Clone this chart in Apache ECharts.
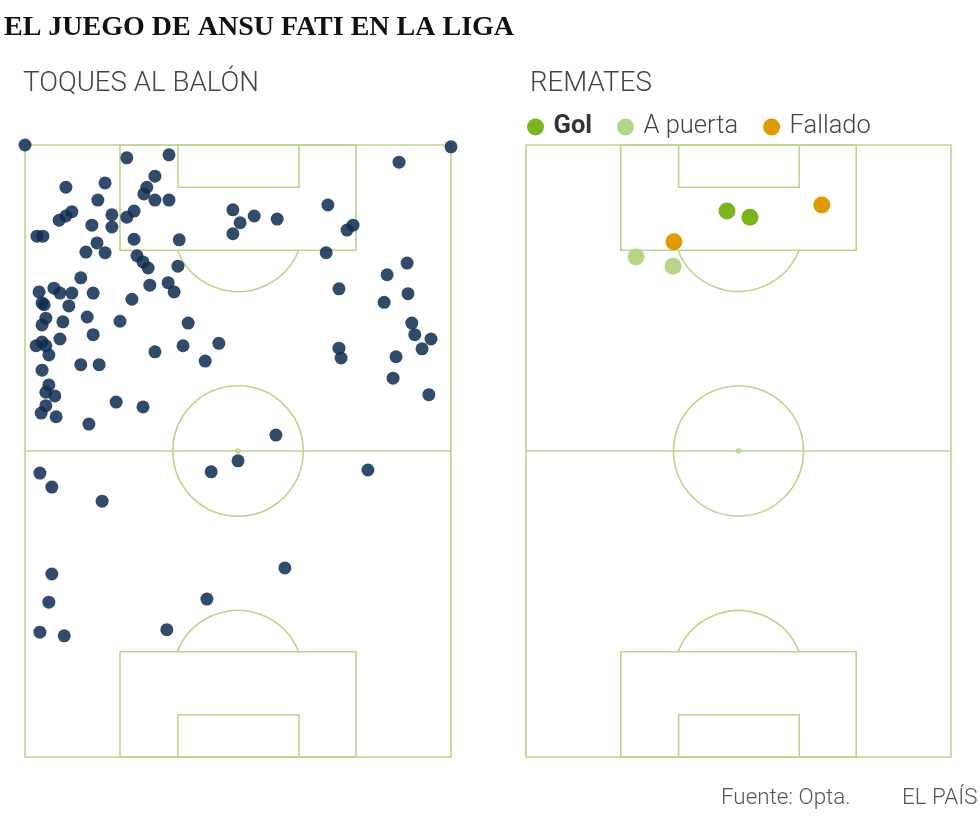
<!DOCTYPE html>
<html>
<head>
<meta charset="utf-8">
<script src="https://cdn.jsdelivr.net/npm/echarts@6/dist/echarts.min.js"></script>
<style>
html,body{margin:0;padding:0;background:#fff;}
#chart{width:980px;height:824px;}
</style>
</head>
<body>
<div id="chart"></div>
<script>
// Data: x = % of pitch width from left touchline, y = % of pitch length from the attacked goal line (top)
const touchesX = [0,100,23.9,33.8,87.8,30.5,28.6,27.9,30.5,33.8,9.6,18.8,17.1,48.8,50.5,48.8,53.8,59.2,71.1,77.0,75.6,11.0,9.6,8.0,20.4,25.6,23.9,15.7,20.4,2.8,4.2,25.6,36.2,16.9,14.3,18.8,26.3,27.7,28.9,35.9,70.7,89.7,85.0,73.7,89.9,84.3,13.1,29.3,33.6,35.0,3.3,6.8,8.2,11.0,16.0,25.1,4.0,4.5,10.3,4.9,4.0,8.9,14.6,22.3,38.3,16.0,8.2,4.0,2.6,4.9,5.6,30.5,37.1,45.5,42.3,4.0,13.1,17.4,5.6,4.9,7.0,4.9,3.8,7.3,21.4,27.7,15.0,90.8,91.5,95.3,93.2,73.7,74.2,87.1,86.4,94.8,58.9,50.0,43.7,3.5,6.3,18.1,80.5,61.0,6.3,5.6,42.7,3.5,9.2,33.3];
const touchesY = [0,0.3,2.1,1.6,2.8,5.1,6.9,8.0,9.0,9.0,6.9,6.2,9.0,10.6,12.7,14.5,11.6,12.1,9.8,13.1,13.9,10.9,11.6,12.3,11.4,10.8,11.8,13.1,13.4,14.9,14.9,15.4,15.5,16.0,17.5,17.6,18.1,19.1,20.1,19.8,17.6,19.3,21.2,23.5,24.3,25.7,21.7,22.9,22.5,24.0,24.0,23.4,24.2,24.2,24.2,25.2,25.8,26.1,26.3,28.3,29.4,28.9,28.1,28.8,29.1,31.0,31.7,32.2,32.8,32.8,34.3,33.8,32.8,32.4,35.3,36.8,35.9,35.9,39.2,40.4,41.0,42.6,43.8,44.4,42.0,42.8,45.6,29.1,31.0,31.7,33.3,33.2,34.8,34.6,38.1,40.8,47.4,51.6,53.4,53.6,55.9,58.2,53.1,69.1,70.1,74.7,74.2,79.6,80.2,79.2];

const shotCategories = ['Gol', 'A puerta', 'Fallado'];
const golX = [47.3, 52.7];
const golY = [10.8, 11.8];
const aPuertaX = [25.9, 34.6];
const aPuertaY = [18.3, 19.8];
const falladoX = [69.6, 34.8];
const falladoY = [9.8, 15.8];

// Pitch markings (same units)
const penaltyBoxX = [22.3, 77.7];
const penaltyBoxDepth = 17.2;
const goalAreaX = [35.9, 64.3];
const goalAreaDepth = 6.9;
const penaltySpotDepth = 13.3;
const circleRadiusX = 15.3;

const LINE = '#bad68e';
const pts = (xs, ys) => xs.map((x, i) => [x, ys[i]]);

function pitchItem(params, api) {
  const p = (x, y) => api.coord([x, y]);
  const st = {stroke: LINE, lineWidth: 1.6, fill: null};
  const rect = (x0, y0, x1, y1) => {
    const a = p(x0, y0), b = p(x1, y1);
    return {type: 'rect', shape: {x: Math.min(a[0], b[0]), y: Math.min(a[1], b[1]), width: Math.abs(b[0] - a[0]), height: Math.abs(b[1] - a[1])}, style: st};
  };
  const r = api.size([circleRadiusX, 0])[0];
  const c = p(50, 50);
  const half = [p(0, 50), p(100, 50)];
  const topSpot = p(50, penaltySpotDepth), topEdge = p(50, penaltyBoxDepth);
  const botSpot = p(50, 100 - penaltySpotDepth), botEdge = p(50, 100 - penaltyBoxDepth);
  const t0 = Math.asin(Math.min(1, (topEdge[1] - topSpot[1]) / r));
  const b0 = Math.asin(Math.min(1, (botSpot[1] - botEdge[1]) / r));
  return {
    type: 'group',
    children: [
      rect(0, 0, 100, 100),
      rect(penaltyBoxX[0], 0, penaltyBoxX[1], penaltyBoxDepth),
      rect(goalAreaX[0], 0, goalAreaX[1], goalAreaDepth),
      rect(penaltyBoxX[0], 100 - penaltyBoxDepth, penaltyBoxX[1], 100),
      rect(goalAreaX[0], 100 - goalAreaDepth, goalAreaX[1], 100),
      {type: 'line', shape: {x1: half[0][0], y1: half[0][1], x2: half[1][0], y2: half[1][1]}, style: st},
      {type: 'circle', shape: {cx: c[0], cy: c[1], r: r}, style: st},
      {type: 'circle', shape: {cx: c[0], cy: c[1], r: 2}, style: st},
      {type: 'arc', shape: {cx: topSpot[0], cy: topSpot[1], r: r, startAngle: t0, endAngle: Math.PI - t0, clockwise: true}, style: st},
      {type: 'arc', shape: {cx: botSpot[0], cy: botSpot[1], r: r, startAngle: Math.PI + b0, endAngle: 2 * Math.PI - b0, clockwise: true}, style: st}
    ]
  };
}

const chart = echarts.init(document.getElementById('chart'), null, {renderer: 'canvas'});
const axisX = i => ({type: 'value', gridIndex: i, min: 0, max: 100, show: false});
const axisY = i => ({type: 'value', gridIndex: i, min: 0, max: 100, inverse: true, show: false});
const lightFont = {fontFamily: 'Roboto', fontWeight: 300, color: '#444'};

chart.setOption({
  animation: false,
  backgroundColor: '#fff',
  title: [
    {text: 'EL JUEGO DE ANSU FATI EN LA LIGA', left: 4, top: 14, padding: 0,
      textStyle: {fontFamily: 'Liberation Serif', fontWeight: 'bold', fontSize: 28, color: '#111'}},
    {text: 'TOQUES AL BALÓN', left: 23, top: 70, padding: 0, textStyle: Object.assign({fontSize: 27.7}, lightFont)},
    {text: 'REMATES', left: 530, top: 70, padding: 0, textStyle: Object.assign({fontSize: 27.7}, lightFont)},
    {text: 'Fuente: Opta.', left: 721, top: 787, padding: 0, textStyle: {fontFamily: 'Roboto', fontWeight: 300, fontSize: 22.4, color: '#555'}},
    {text: 'EL PAÍS', left: 902, top: 787, padding: 0, textStyle: {fontFamily: 'Roboto', fontWeight: 300, fontSize: 22.4, color: '#555'}}
  ],
  legend: {
    left: 527, top: 114, padding: 0, icon: 'circle', itemWidth: 26, itemHeight: 17, itemGap: 25,
    textStyle: {fontFamily: 'Roboto', fontWeight: 300, fontSize: 25.5, color: '#444'},
    data: [
      {name: 'Gol', textStyle: {fontWeight: 'bold', color: '#333'}},
      {name: 'A puerta'},
      {name: 'Fallado'}
    ],
    selectedMode: false
  },
  grid: [
    {left: 25, top: 145, width: 426, height: 612},
    {left: 526, top: 145, width: 425, height: 612}
  ],
  xAxis: [axisX(0), axisX(1)],
  yAxis: [axisY(0), axisY(1)],
  series: [
    {type: 'custom', xAxisIndex: 0, yAxisIndex: 0, data: [[50, 50]], renderItem: pitchItem, silent: true, z: 1, clip: false},
    {type: 'custom', xAxisIndex: 1, yAxisIndex: 1, data: [[50, 50]], renderItem: pitchItem, silent: true, z: 1, clip: false},
    {name: 'Toques', type: 'scatter', xAxisIndex: 0, yAxisIndex: 0, data: pts(touchesX, touchesY), symbolSize: 13,
      itemStyle: {color: '#0f2b50', opacity: 0.85}, z: 3},
    {name: shotCategories[0], type: 'scatter', xAxisIndex: 1, yAxisIndex: 1, data: pts(golX, golY), symbolSize: 17,
      itemStyle: {color: '#7ab41f', opacity: 1}, z: 3},
    {name: shotCategories[1], type: 'scatter', xAxisIndex: 1, yAxisIndex: 1, data: pts(aPuertaX, aPuertaY), symbolSize: 17,
      itemStyle: {color: '#b7d589', opacity: 1}, z: 3},
    {name: shotCategories[2], type: 'scatter', xAxisIndex: 1, yAxisIndex: 1, data: pts(falladoX, falladoY), symbolSize: 17,
      itemStyle: {color: '#e09b00', opacity: 1}, z: 3}
  ]
});
</script>
</body>
</html>
